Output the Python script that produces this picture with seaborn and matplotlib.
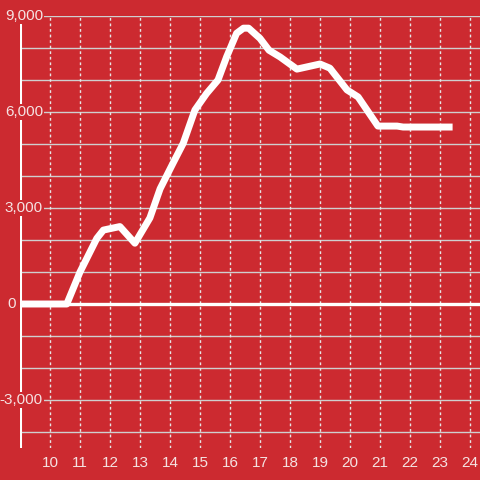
import pandas as pd
import numpy as np
import matplotlib.pyplot as plt
import seaborn as sns

# hour of day vs. value
hours = [9.0, 10.33, 10.56, 11.0, 11.56, 11.78, 12.33, 12.83, 13.33, 13.67,
         14.1, 14.44, 14.83, 15.22, 15.6, 15.89, 16.22, 16.45, 16.62, 17.0, 17.3,
         17.67, 18.23, 19.0, 19.33, 19.9, 20.27, 20.93, 21.57, 21.77, 23.42]
values = [0, 0, 0, 1000, 2050, 2310, 2420, 1900, 2690, 3600,
          4400, 5020, 6060, 6580, 7000, 7730, 8460, 8620, 8620, 8300, 7930,
          7720, 7340, 7500, 7370, 6690, 6470, 5560, 5560, 5530, 5530]

x_ticks = list(range(10, 25))
y_grid = list(range(-4000, 9001, 1000))
y_labels = [-3000, 0, 3000, 6000, 9000]
# right edge of each y label, in pixels from the left of the axes
y_label_right = [23, -4, 23, 23, 23]

RED = "#cc2a30"
TXT = "#f5e2e2"

sns.set_theme(style="white")
plt.rcParams["font.family"] = ["Liberation Sans", "DejaVu Sans"]

df = pd.DataFrame({"hour": hours, "value": values})

fig = plt.figure(figsize=(4.8, 4.8), dpi=100, facecolor=RED)
ax = fig.add_axes([20 / 480, 32 / 480, 460 / 480, 432 / 480])
ax.set_facecolor(RED)

ax.set_xlim(9, 9 + 460 / 30)
ax.set_ylim(-4500, 9000)

# grid
for y in y_grid:
    if y != 0:
        ax.axhline(y, color="#cfcfcf", lw=1, zorder=1)
for x in x_ticks:
    ax.axvline(x, color="#e6e6e6", lw=1, ls=(0, (2, 2)), zorder=1)

ax.axhline(0, color="white", lw=2.4, zorder=2)
ax.axvline(9, ymin=0, ymax=(448 - 24) / 432, color="white", lw=2.2, zorder=2)

sns.lineplot(data=df, x="hour", y="value", ax=ax, color="white", lw=5,
             zorder=3, solid_capstyle="butt", solid_joinstyle="round")

for y, r in zip(y_labels, y_label_right):
    ax.text(9 + r / 30, y, f"{y:,}", ha="right", va="center",
            color=TXT, fontsize=11, zorder=4,
            bbox=dict(facecolor=RED, edgecolor="none", pad=1))

ax.set_xticks(x_ticks)
ax.set_xticklabels([str(x) for x in x_ticks], color=TXT, fontsize=11)
ax.tick_params(axis="x", length=0, pad=6)
ax.set_yticks([])
ax.set_xlabel("")
ax.set_ylabel("")
for s in ax.spines.values():
    s.set_visible(False)

fig.savefig("out.png", dpi=100, facecolor=RED)
